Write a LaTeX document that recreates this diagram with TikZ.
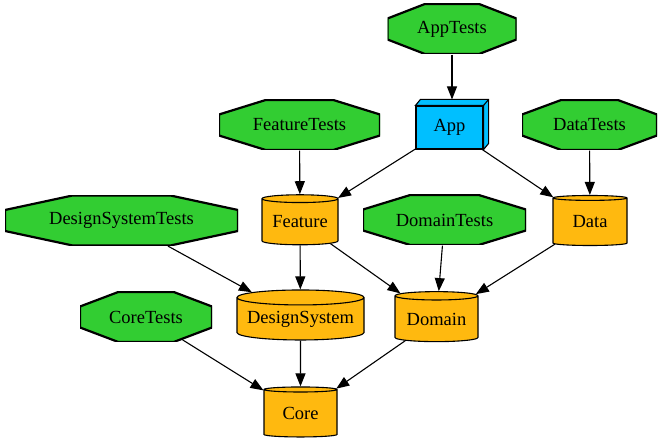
\documentclass[tikz,border=0pt]{standalone}
\usepackage{fontspec}
\setmainfont{Liberation Serif}
\usetikzlibrary{arrows.meta,shapes.geometric,calc}

\definecolor{testgreen}{RGB}{50,205,50}
\definecolor{modorange}{RGB}{255,185,15}
\definecolor{appblue}{RGB}{0,191,255}

\begin{document}
\begin{tikzpicture}[
    x=1pt, y=-1pt,
    line width=1.1pt,
    every node/.style={font=\fontsize{18.5}{22}\selectfont},
    testbox/.style={rectangle, minimum width=#1, minimum height=50pt, inner sep=0pt,
        path picture={
            \draw[fill=testgreen, line width=2.2pt]
                let \p1=(path picture bounding box.south west),
                    \p2=(path picture bounding box.north east) in
                ({\x1+0.29*(\x2-\x1)},\y1) -- ({\x2-0.29*(\x2-\x1)},\y1)
                -- (\x2,{\y1+0.29*(\y2-\y1)}) -- (\x2,{\y2-0.29*(\y2-\y1)})
                -- ({\x2-0.29*(\x2-\x1)},\y2) -- ({\x1+0.29*(\x2-\x1)},\y2)
                -- (\x1,{\y2-0.29*(\y2-\y1)}) -- (\x1,{\y1+0.29*(\y2-\y1)}) -- cycle;
        }},
    modbox/.style={cylinder, shape border rotate=90, aspect=0.14,
        minimum width=#1, minimum height=50pt, draw, fill=modorange, inner sep=0pt},
    appbox/.style={rectangle, draw, fill=appblue, minimum width=67pt,
        minimum height=43pt, inner sep=0pt},
    dep/.style={-{Triangle[length=13pt,width=10pt]}}
]

\useasboundingbox (0,0) rectangle (662,443);

% Test targets
\node[testbox=129pt] (apptests) at (452,29) {AppTests};
\node[testbox=161pt] (featuretests) at (299.5,125) {FeatureTests};
\node[testbox=135pt] (datatests) at (589.5,125) {DataTests};
\node[testbox=233pt] (dstests) at (121.5,220.5) {DesignSystemTests};
\node[testbox=163pt] (domaintests) at (444.5,220) {DomainTests};
\node[testbox=132pt] (coretests) at (146,317) {CoreTests};

% App
\node[appbox] (app) at (449.5,127.5) {App};
\draw[fill=appblue] (app.north west) -- ([shift={(5,-6)}]app.north west)
    -- ([shift={(5,-6)}]app.north east) -- ([shift={(5,-6)}]app.south east)
    -- (app.south east) -- (app.north east) -- cycle;
\draw (app.north east) -- ([shift={(5,-6)}]app.north east);
\coordinate (apptop) at ([shift={(2.5,-6)}]app.north);

% Modules
\node[modbox=76pt] (feature) at (300,222) {Feature};
\node[modbox=74pt] (data) at (590,222) {Data};
\node[modbox=127pt] (designsystem) at (300.5,319) {DesignSystem};
\node[modbox=83pt] (domain) at (436.5,319) {Domain};
\node[modbox=73pt] (core) at (300.5,413.5) {Core};

% Dependencies
\draw[dep] (apptests) -- (apptop);
\draw[dep] (app) -- (feature);
\draw[dep] (app) -- (data);
\draw[dep] (featuretests) -- (feature);
\draw[dep] (datatests) -- (data);
\draw[dep] (dstests) -- (designsystem);
\draw[dep] (feature) -- (designsystem);
\draw[dep] (feature) -- (domain);
\draw[dep] (domaintests) -- (domain);
\draw[dep] (data) -- (domain);
\draw[dep, shorten <=-5pt] (coretests) -- (core);
\draw[dep] (designsystem) -- (core);
\draw[dep] (domain) -- (core);

\end{tikzpicture}
\end{document}
